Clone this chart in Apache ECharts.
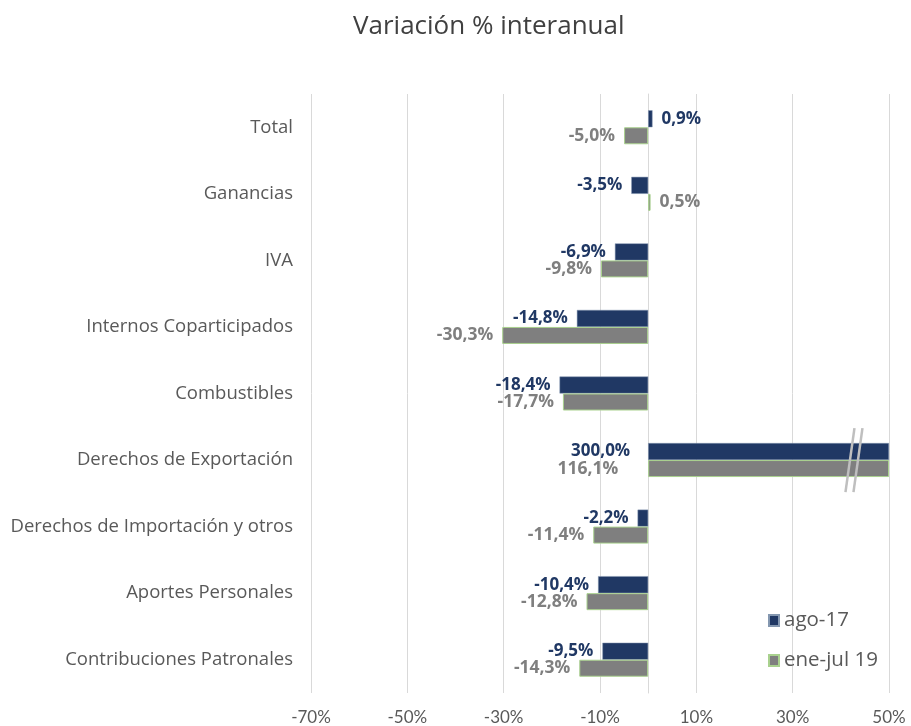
<!DOCTYPE html>
<html><head><meta charset="utf-8">
<script src="https://cdn.jsdelivr.net/npm/echarts@6/dist/echarts.min.js"></script>
<style>html,body{margin:0;padding:0;background:#fff}#c{width:911px;height:726px}</style>
</head><body><div id="c"></div>
<script>
var categories = ['Total','Ganancias','IVA','Internos Coparticipados','Combustibles','Derechos de Exportación','Derechos de Importación y otros','Aportes Personales','Contribuciones Patronales'];
var ago17 = [0.9, -3.5, -6.9, -14.8, -18.4, 300.0, -2.2, -10.4, -9.5];
var eneJul19 = [-5.0, 0.5, -9.8, -30.3, -17.7, 116.1, -11.4, -12.8, -14.3];
var axisMin = -70, axisMax = 50, axisStep = 20;
var seriesNames = ['ago-17', 'ene-jul 19'];

var FONT = '"Open Sans", Lato, sans-serif';
var AXFONT = 'Lato, "Open Sans", sans-serif';
function fmt(v){ return v.toFixed(1).replace('.', ',') + '%'; }
function build(vals, bigDist){
  return vals.map(function(v){
    var big = v > axisMax;
    return {
      value: Math.min(v, axisMax),
      raw: v,
      label: { position: (v < 0 || big) ? 'left' : 'right', distance: big ? bigDist : 9 }
    };
  });
}
var chart = echarts.init(document.getElementById('c'));
chart.setOption({
  animation: false,
  title: { text: 'Variación % interanual', left: 348, top: 9,
    textStyle: { fontFamily: FONT, fontSize: 26, fontWeight: 'normal', color: '#404040' } },
  grid: { left: 311, right: 22, top: 94, bottom: 33, containLabel: false },
  legend: {
    orient: 'vertical', left: 763, top: 605, itemGap: 19, itemWidth: 10, itemHeight: 11,
    icon: 'rect',
    textStyle: { fontFamily: FONT, fontSize: 20.5, color: '#595959' },
    data: seriesNames
  },
  xAxis: {
    type: 'value', min: axisMin, max: axisMax, interval: axisStep,
    axisLine: { show: false }, axisTick: { show: false },
    splitLine: { lineStyle: { color: '#d9d9d9', width: 1 } },
    axisLabel: { fontFamily: AXFONT, fontSize: 17, color: '#595959', margin: 16,
      formatter: function(v){ return v + '%'; } }
  },
  yAxis: {
    type: 'category', data: categories, inverse: true,
    axisLine: { show: true, onZero: true, lineStyle: { color: '#d9d9d9' } },
    axisTick: { show: false },
    axisLabel: { fontFamily: FONT, fontSize: 18.5, color: '#595959', margin: 18 }
  },
  series: [
    { name: seriesNames[0], type: 'bar', data: build(ago17, 18), barWidth: 17, barGap: '0%',
      itemStyle: { color: '#203864', borderColor: '#8497b0', borderWidth: 0.5 },
      label: { show: true, fontFamily: FONT, fontSize: 17, fontWeight: 'bold', color: '#203864',
        formatter: function(p){ return fmt(p.data.raw); } } },
    { name: seriesNames[1], type: 'bar', data: build(eneJul19, 30), barWidth: 17, barGap: '0%',
      itemStyle: { color: '#7f7f7f', borderColor: '#a9d18e', borderWidth: 1 },
      label: { show: true, fontFamily: FONT, fontSize: 17.5, fontWeight: 'bold', color: '#7f7f7f',
        formatter: function(p){ return fmt(p.data.raw); } } }
  ]
});
// axis break marks on the clipped Derechos de Exportación bars
var idx = categories.indexOf('Derechos de Exportación');
var p = chart.convertToPixel({ xAxisIndex: 0, yAxisIndex: 0 }, [42, idx]);
var els = [];
[0, 8].forEach(function(dx){
  els.push({ type: 'line', z: 100,
    shape: { x1: p[0] + dx + 4, y1: p[1] - 32, x2: p[0] + dx - 5, y2: p[1] + 32 },
    style: { stroke: '#bfbfbf', lineWidth: 2.5 } });
});
chart.setOption({ graphic: els });
</script></body></html>
